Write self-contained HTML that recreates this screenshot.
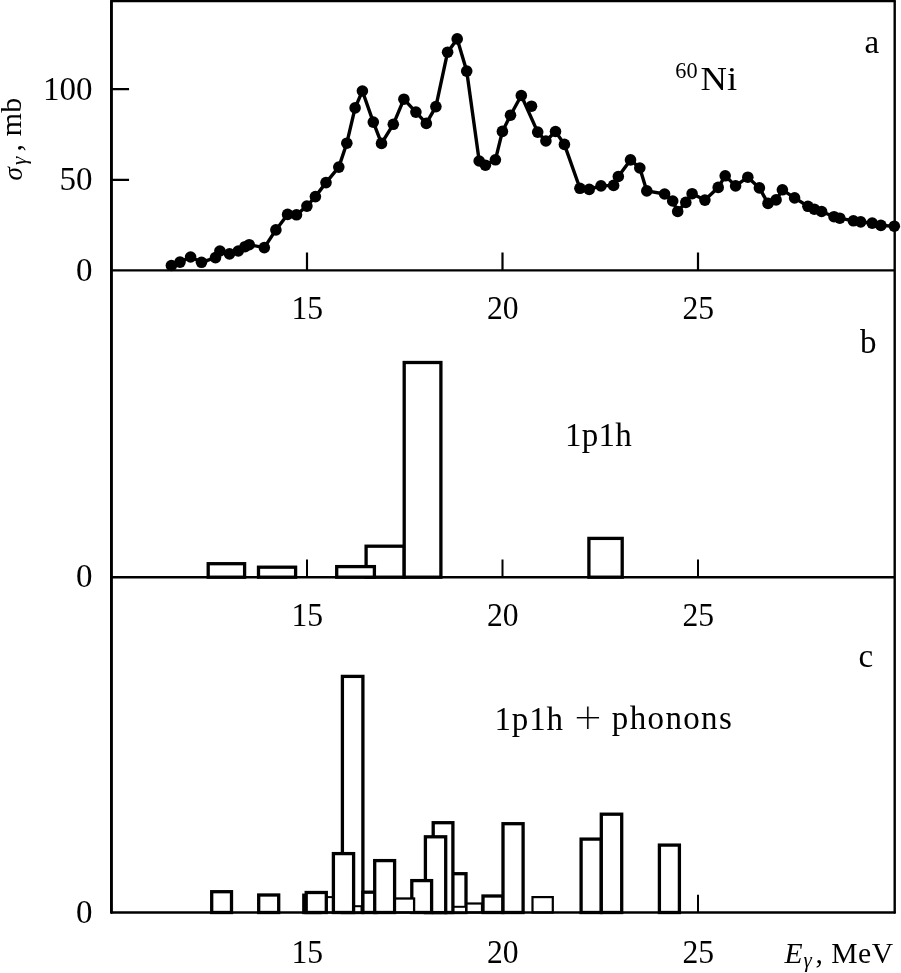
<!DOCTYPE html>
<html lang="en"><head><meta charset="utf-8"><title>60Ni photoabsorption</title>
<style>html,body{margin:0;padding:0;background:#fff;}svg{display:block;}text{font-family:"Liberation Serif","DejaVu Serif",serif;fill:#000;}</style></head><body>
<svg width="901" height="973" viewBox="0 0 901 973">
<rect width="901" height="973" fill="#fff"/>
<g id="panel-b">
<rect x="208.2" y="563.7" width="36.4" height="13.5" fill="#fff" stroke="#000" stroke-width="3.3"/>
<rect x="258.5" y="567.2" width="37.1" height="10.0" fill="#fff" stroke="#000" stroke-width="3.3"/>
<rect x="366.1" y="546.2" width="38.1" height="31.0" fill="#fff" stroke="#000" stroke-width="3.3"/>
<rect x="336.7" y="566.6" width="37.7" height="10.6" fill="#fff" stroke="#000" stroke-width="3.3"/>
<rect x="404.2" y="362.5" width="36.7" height="214.7" fill="#fff" stroke="#000" stroke-width="3.3"/>
<rect x="588.9" y="538.4" width="33.3" height="38.8" fill="#fff" stroke="#000" stroke-width="3.3"/>
</g>
<g id="panel-c">
<rect x="211.7" y="891.7" width="19.8" height="20.8" fill="#fff" stroke="#000" stroke-width="3.3"/>
<rect x="258.7" y="895.0" width="20.0" height="17.5" fill="#fff" stroke="#000" stroke-width="3.3"/>
<rect x="303.8" y="895.2" width="16.2" height="17.3" fill="#fff" stroke="#000" stroke-width="3.3"/>
<rect x="320.0" y="897.1" width="14.0" height="15.4" fill="#fff" stroke="#000" stroke-width="2.0"/>
<rect x="306.2" y="892.5" width="20.1" height="20.0" fill="#fff" stroke="#000" stroke-width="3.3"/>
<rect x="342.4" y="676.4" width="20.5" height="236.1" fill="#fff" stroke="#000" stroke-width="3.3"/>
<rect x="350.0" y="906.2" width="11.5" height="6.3" fill="#fff" stroke="#000" stroke-width="2.0"/>
<rect x="333.4" y="853.6" width="20.2" height="58.9" fill="#fff" stroke="#000" stroke-width="3.3"/>
<rect x="362.9" y="892.2" width="13.1" height="20.3" fill="#fff" stroke="#000" stroke-width="3.3"/>
<rect x="374.7" y="860.6" width="19.9" height="51.9" fill="#fff" stroke="#000" stroke-width="3.3"/>
<rect x="446.0" y="873.7" width="20.0" height="38.8" fill="#fff" stroke="#000" stroke-width="3.3"/>
<rect x="452.9" y="906.8" width="13.1" height="5.8" fill="#fff" stroke="#000" stroke-width="2.0"/>
<rect x="433.2" y="822.7" width="19.7" height="89.8" fill="#fff" stroke="#000" stroke-width="3.3"/>
<rect x="425.4" y="836.8" width="20.3" height="75.8" fill="#fff" stroke="#000" stroke-width="3.3"/>
<rect x="411.8" y="880.6" width="19.8" height="31.9" fill="#fff" stroke="#000" stroke-width="3.3"/>
<rect x="395.0" y="898.5" width="19.1" height="14.0" fill="#fff" stroke="#000" stroke-width="2.3"/>
<rect x="466.5" y="903.5" width="15.5" height="9.0" fill="#fff" stroke="#000" stroke-width="2.2"/>
<rect x="483.0" y="896.0" width="20.0" height="16.5" fill="#fff" stroke="#000" stroke-width="3.3"/>
<rect x="503.0" y="823.7" width="20.1" height="88.8" fill="#fff" stroke="#000" stroke-width="3.3"/>
<rect x="532.5" y="897.1" width="20.3" height="15.4" fill="#fff" stroke="#000" stroke-width="2.2"/>
<rect x="581.1" y="839.1" width="20.2" height="73.4" fill="#fff" stroke="#000" stroke-width="3.3"/>
<rect x="601.3" y="814.2" width="20.4" height="98.3" fill="#fff" stroke="#000" stroke-width="3.3"/>
<rect x="659.4" y="845.1" width="20.0" height="67.4" fill="#fff" stroke="#000" stroke-width="3.3"/>
</g>
<g id="axes" stroke="#000" fill="none">
<path d="M111.45 1.1V912.55" stroke-width="2.9" stroke-linecap="round"/>
<path d="M894.7 1.1V912.55" stroke-width="2.4" stroke-linecap="round"/>
<path d="M111.45 1.1H894.7" stroke-width="2.2" stroke-linecap="round"/>
<path d="M111.45 912.55H894.7" stroke-width="2.5" stroke-linecap="round"/>
<path d="M111.45 270.4H894.7M111.45 577.2H894.7" stroke-width="2.4"/>
<path d="M307.0 270.4v-17.8M502.5 270.4v-17.8M698.0 270.4v-17.8M111.45 89.2h17.6M111.45 179.8h17.6" stroke-width="2.2"/>
<path d="M307.0 577.2v-17.7M502.5 577.2v-17.7M698.0 577.2v-17.7M698.0 912.55v-17.7" stroke-width="2"/>
</g>
<g id="panel-a">
<path d="M171.4 265.5L180.0 262.1L190.6 257.0L201.5 262.3L215.5 257.6L219.9 251.0L229.5 253.9L238.3 251.0L245.0 246.7L249.2 244.7L264.3 247.6L275.9 229.9L287.6 214.4L296.5 214.8L306.9 206.1L315.4 196.6L326.0 182.6L338.8 167.1L346.8 143.2L355.1 107.9L362.4 91.0L373.3 122.1L381.5 143.4L393.3 124.3L403.9 99.2L415.9 112.1L426.3 123.4L435.9 106.6L447.6 52.2L457.2 38.9L466.7 71.1L479.2 161.0L485.4 165.2L495.4 159.8L502.4 131.4L510.5 115.2L521.3 95.5L537.7 132.1L545.9 141.0L555.5 131.5L564.4 144.4L579.9 188.3L589.2 189.4L601.0 185.9L613.6 185.4L618.3 176.5L630.5 159.9L639.8 168.0L646.8 190.9L664.6 194.0L672.7 201.0L677.7 211.5L685.8 202.4L692.1 193.7L704.9 200.1L718.2 187.4L725.2 175.8L735.6 185.9L747.8 177.2L759.4 187.9L768.0 203.4L776.1 199.9L782.4 189.8L794.6 197.9L807.9 206.3L814.3 209.2L821.6 211.5L834.0 216.7L839.8 218.2L853.4 220.8L860.7 221.9L872.2 223.1L880.9 225.4L894.3 226.2" fill="none" stroke="#000" stroke-width="3.4" stroke-linejoin="round"/>
<g fill="#000"><circle cx="171.4" cy="265.5" r="5.8"/><circle cx="180.0" cy="262.1" r="5.8"/><circle cx="190.6" cy="257.0" r="5.8"/><circle cx="201.5" cy="262.3" r="5.8"/><circle cx="215.5" cy="257.6" r="5.8"/><circle cx="219.9" cy="251.0" r="5.8"/><circle cx="229.5" cy="253.9" r="5.8"/><circle cx="238.3" cy="251.0" r="5.8"/><circle cx="245.0" cy="246.7" r="5.8"/><circle cx="249.2" cy="244.7" r="5.8"/><circle cx="264.3" cy="247.6" r="5.8"/><circle cx="275.9" cy="229.9" r="5.8"/><circle cx="287.6" cy="214.4" r="5.8"/><circle cx="296.5" cy="214.8" r="5.8"/><circle cx="306.9" cy="206.1" r="5.8"/><circle cx="315.4" cy="196.6" r="5.8"/><circle cx="326.0" cy="182.6" r="5.8"/><circle cx="338.8" cy="167.1" r="5.8"/><circle cx="346.8" cy="143.2" r="5.8"/><circle cx="355.1" cy="107.9" r="5.8"/><circle cx="362.4" cy="91.0" r="5.8"/><circle cx="373.3" cy="122.1" r="5.8"/><circle cx="381.5" cy="143.4" r="5.8"/><circle cx="393.3" cy="124.3" r="5.8"/><circle cx="403.9" cy="99.2" r="5.8"/><circle cx="415.9" cy="112.1" r="5.8"/><circle cx="426.3" cy="123.4" r="5.8"/><circle cx="435.9" cy="106.6" r="5.8"/><circle cx="447.6" cy="52.2" r="5.8"/><circle cx="457.2" cy="38.9" r="5.8"/><circle cx="466.7" cy="71.1" r="5.8"/><circle cx="479.2" cy="161.0" r="5.8"/><circle cx="485.4" cy="165.2" r="5.8"/><circle cx="495.4" cy="159.8" r="5.8"/><circle cx="502.4" cy="131.4" r="5.8"/><circle cx="510.5" cy="115.2" r="5.8"/><circle cx="521.3" cy="95.5" r="5.8"/><circle cx="531.5" cy="106.2" r="5.8"/><circle cx="537.7" cy="132.1" r="5.8"/><circle cx="545.9" cy="141.0" r="5.8"/><circle cx="555.5" cy="131.5" r="5.8"/><circle cx="564.4" cy="144.4" r="5.8"/><circle cx="579.9" cy="188.3" r="5.8"/><circle cx="589.2" cy="189.4" r="5.8"/><circle cx="601.0" cy="185.9" r="5.8"/><circle cx="613.6" cy="185.4" r="5.8"/><circle cx="618.3" cy="176.5" r="5.8"/><circle cx="630.5" cy="159.9" r="5.8"/><circle cx="639.8" cy="168.0" r="5.8"/><circle cx="646.8" cy="190.9" r="5.8"/><circle cx="664.6" cy="194.0" r="5.8"/><circle cx="672.7" cy="201.0" r="5.8"/><circle cx="677.7" cy="211.5" r="5.8"/><circle cx="685.8" cy="202.4" r="5.8"/><circle cx="692.1" cy="193.7" r="5.8"/><circle cx="704.9" cy="200.1" r="5.8"/><circle cx="718.2" cy="187.4" r="5.8"/><circle cx="725.2" cy="175.8" r="5.8"/><circle cx="735.6" cy="185.9" r="5.8"/><circle cx="747.8" cy="177.2" r="5.8"/><circle cx="759.4" cy="187.9" r="5.8"/><circle cx="768.0" cy="203.4" r="5.8"/><circle cx="776.1" cy="199.9" r="5.8"/><circle cx="782.4" cy="189.8" r="5.8"/><circle cx="794.6" cy="197.9" r="5.8"/><circle cx="807.9" cy="206.3" r="5.8"/><circle cx="814.3" cy="209.2" r="5.8"/><circle cx="821.6" cy="211.5" r="5.8"/><circle cx="834.0" cy="216.7" r="5.8"/><circle cx="839.8" cy="218.2" r="5.8"/><circle cx="853.4" cy="220.8" r="5.8"/><circle cx="860.7" cy="221.9" r="5.8"/><circle cx="872.2" cy="223.1" r="5.8"/><circle cx="880.9" cy="225.4" r="5.8"/><circle cx="894.3" cy="226.2" r="5.8"/></g>
</g>
<g id="labels" font-size="33">
<text x="307.3" y="319.3" text-anchor="middle" textLength="31.6" lengthAdjust="spacingAndGlyphs">15</text>
<text x="502.8" y="319.3" text-anchor="middle" textLength="31.6" lengthAdjust="spacingAndGlyphs">20</text>
<text x="698.3" y="319.3" text-anchor="middle" textLength="31.6" lengthAdjust="spacingAndGlyphs">25</text>
<text x="307.3" y="626.0" text-anchor="middle" textLength="31.6" lengthAdjust="spacingAndGlyphs">15</text>
<text x="502.8" y="626.0" text-anchor="middle" textLength="31.6" lengthAdjust="spacingAndGlyphs">20</text>
<text x="698.3" y="626.0" text-anchor="middle" textLength="31.6" lengthAdjust="spacingAndGlyphs">25</text>
<text x="307.3" y="962.8" text-anchor="middle" textLength="31.6" lengthAdjust="spacingAndGlyphs">15</text>
<text x="502.8" y="962.8" text-anchor="middle" textLength="31.6" lengthAdjust="spacingAndGlyphs">20</text>
<text x="698.3" y="962.8" text-anchor="middle" textLength="31.6" lengthAdjust="spacingAndGlyphs">25</text>
<text x="92.5" y="99.5" text-anchor="end" >100</text>
<text x="92.5" y="189.6" text-anchor="end" >50</text>
<text x="92.5" y="280.5" text-anchor="end" >0</text>
<text x="92.5" y="587.0" text-anchor="end" >0</text>
<text x="92.5" y="923.3" text-anchor="end" >0</text>
<text x="864.5" y="52.6" text-anchor="start" >a</text>
<text x="860.0" y="353.0" text-anchor="start" >b</text>
<text x="858.4" y="667.3" text-anchor="start" >c</text>
<text x="675.3" y="78.2" font-size="24" textLength="22.3" lengthAdjust="spacingAndGlyphs">60</text>
<text x="700.6" y="89.6" textLength="36.6" lengthAdjust="spacingAndGlyphs">Ni</text>
<text x="565.0" y="445.6" text-anchor="start" textLength="66.8" lengthAdjust="spacing">1p1h</text>
<text x="494.5" y="729.6" text-anchor="start" textLength="68.5" lengthAdjust="spacing">1p1h</text>
<text x="587.9" y="734.9" text-anchor="middle" font-size="50" stroke="#fff" stroke-width="0.9">+</text>
<text x="611.8" y="729.3" text-anchor="start" textLength="120" lengthAdjust="spacing">phonons</text>
<text x="784.4" y="962.6" font-size="29.6" font-style="italic">E</text>
<text x="803.6" y="967.2" font-size="21" font-style="italic">γ</text>
<text x="815.6" y="962.6" font-size="29.6">,</text>
<text x="831.2" y="962.6" font-size="29.6" textLength="61.8" lengthAdjust="spacing">MeV</text>
<text transform="translate(21.8,180.6) rotate(-90)" font-size="27" font-style="italic">σ</text>
<text transform="translate(25.6,165.0) rotate(-90)" font-size="21" font-style="italic">γ</text>
<text transform="translate(21.3,151.5) rotate(-90)" font-size="30">,</text>
<text transform="translate(21.3,136.2) rotate(-90)" font-size="30">mb</text>
</g>
</svg></body></html>
